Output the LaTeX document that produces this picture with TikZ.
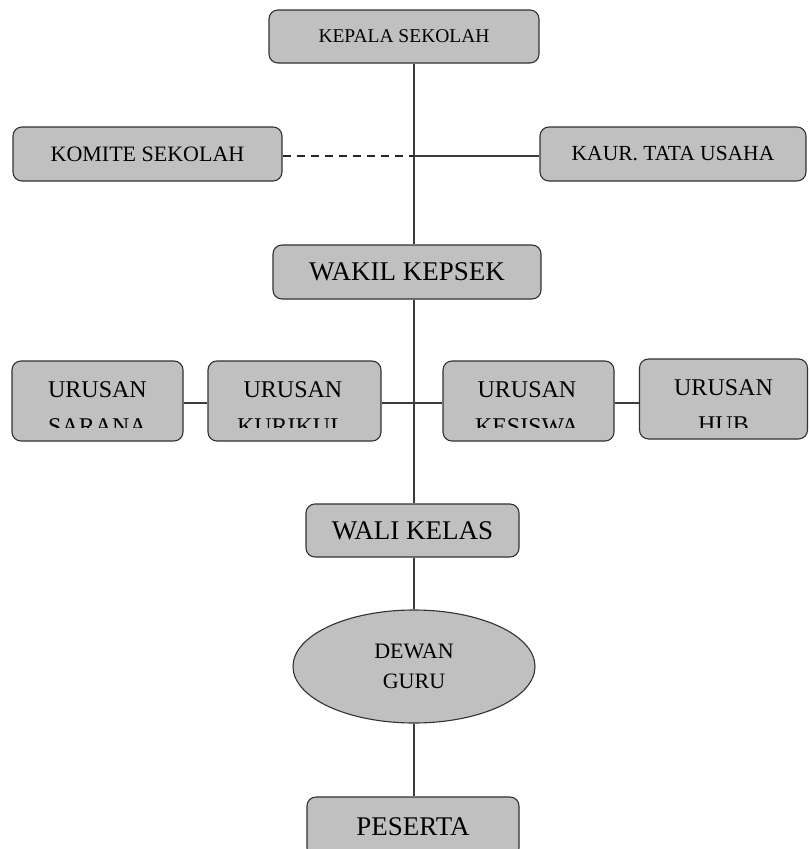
\documentclass[tikz,border=0pt]{standalone}
\usepackage{fontspec}
\setmainfont{Liberation Serif}
\usetikzlibrary{shapes.geometric}
\definecolor{boxgray}{RGB}{192,192,192}
\definecolor{edgegray}{RGB}{50,50,50}
\definecolor{linegray}{RGB}{60,60,60}
\tikzset{
  orgbox/.style={draw=edgegray, fill=boxgray, rounded corners=9pt, line width=1.1pt, inner sep=0pt, text=black},
  orgoval/.style={draw=edgegray, fill=boxgray, ellipse, line width=1.1pt, inner sep=0pt, text=black, align=center},
  conn/.style={draw=linegray, line width=1.2pt},
  dashconn/.style={draw=black!85, line width=1.6pt, dash pattern=on 8pt off 6pt},
  urtext/.style={anchor=base, font=\fontsize{24}{28}\selectfont, text=black},
}
\begin{document}
\begin{tikzpicture}[x=1pt,y=1pt]
\clip (0,0) rectangle (809,-849);
\useasboundingbox (0,0) rectangle (809,-849);
\fill[white] (0,0) rectangle (809,-849);
\coordinate (spine) at (414,0);
\coordinate (j1) at (414,-156);
\coordinate (j2) at (414,-403);

% top section
\node[orgbox, minimum width=270pt, minimum height=53pt, font=\fontsize{19.5}{22}\selectfont] (kepala) at (404,-36.5) {KEPALA SEKOLAH};
\node[orgbox, minimum width=269pt, minimum height=54pt, font=\fontsize{22}{26}\selectfont] (komite) at (147.5,-154) {KOMITE SEKOLAH};
\node[orgbox, minimum width=266pt, minimum height=54pt, font=\fontsize{21.5}{26}\selectfont] (kaur) at (673,-154) {KAUR. TATA USAHA};
\node[orgbox, minimum width=268pt, minimum height=54pt, font=\fontsize{27}{30}\selectfont] (wakil) at (407,-272) {WAKIL KEPSEK};

% urusan row
\node[orgbox, minimum width=171pt, minimum height=80pt] (sarana) at (97.5,-401) {};
\node[orgbox, minimum width=173pt, minimum height=80pt] (kurikul) at (294.5,-401) {};
\node[orgbox, minimum width=171pt, minimum height=80pt] (kesiswa) at (528.5,-401) {};
\node[orgbox, minimum width=168pt, minimum height=80pt] (hub) at (723.5,-399) {};
\begin{scope}
\clip (0,-355) rectangle (809,-427);
\node[urtext] (saranaA) at (97.5,-397) {URUSAN};
\node[urtext] (saranaB) at (97.5,-434) {SARANA};
\node[urtext] (kurikulA) at (293,-397) {URUSAN};
\node[urtext] (kurikulB) at (291,-434) {KURIKUL};
\node[urtext] (kesiswaA) at (527,-397) {URUSAN};
\node[urtext] (kesiswaB) at (527,-434) {KESISWA};
\node[urtext] (hubA) at (723.5,-395) {URUSAN};
\node[urtext] (hubB) at (723.5,-432) {HUB};
\end{scope}

% lower section
\node[orgbox, minimum width=213pt, minimum height=53pt, font=\fontsize{27}{30}\selectfont] (wali) at (412.5,-530.5) {WALI KELAS};
\node[orgoval, minimum width=242pt, minimum height=113pt, font=\fontsize{22}{30}\selectfont] (dewan) at (414,-666.5) {DEWAN\\GURU};
\node[orgbox, minimum width=212pt, minimum height=60pt, font=\fontsize{27}{30}\selectfont] (peserta) at (413,-827) {PESERTA};

% connectors
\draw[conn] (kepala.south -| spine) -- (wakil.north -| spine);
\draw[dashconn] (komite.east |- j1) -- (j1);
\draw[conn] (j1) -- (kaur.west |- j1);
\draw[conn] (wakil.south -| spine) -- (wali.north -| spine);
\draw[conn] (sarana.east |- j2) -- (kurikul.west |- j2);
\draw[conn] (kurikul.east |- j2) -- (kesiswa.west |- j2);
\draw[conn] (kesiswa.east |- j2) -- (hub.west |- j2);
\draw[conn] (wali.south -| spine) -- (dewan.north);
\draw[conn] (dewan.south) -- (peserta.north -| spine);
\end{tikzpicture}
\end{document}
